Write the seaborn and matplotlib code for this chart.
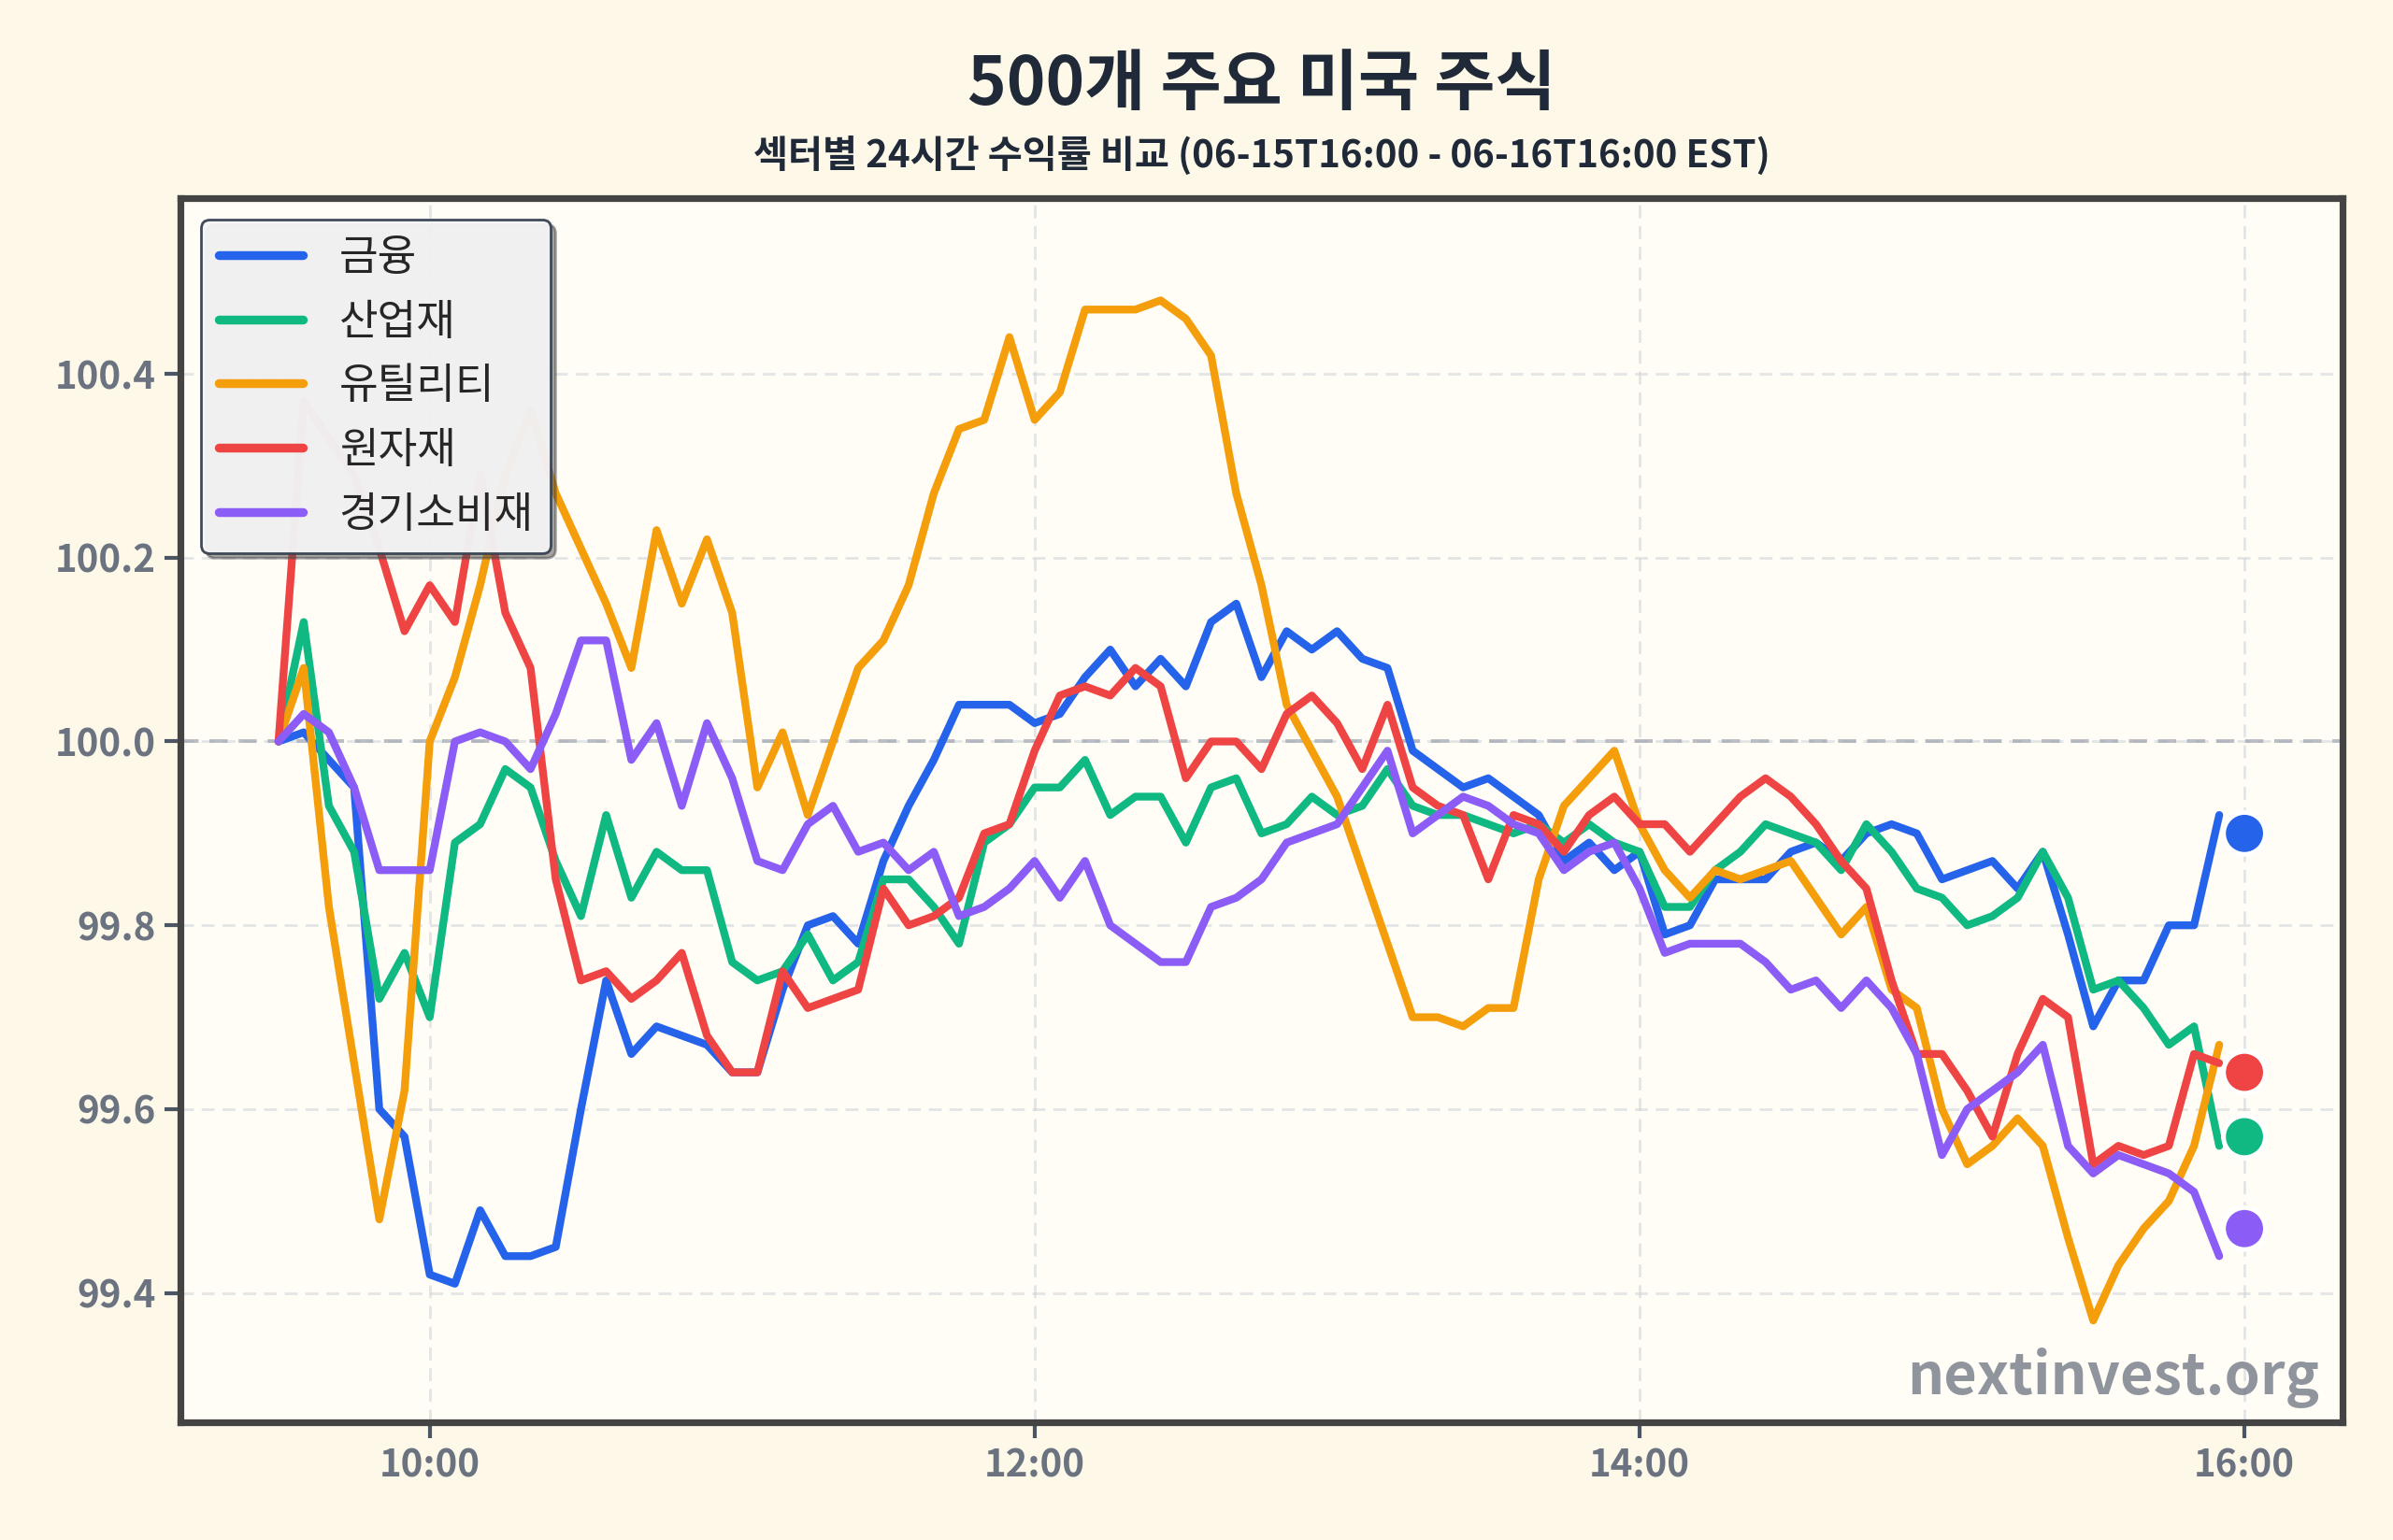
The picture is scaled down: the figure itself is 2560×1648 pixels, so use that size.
import numpy as np
import pandas as pd
import matplotlib
matplotlib.use("Agg")
import matplotlib.pyplot as plt
import matplotlib.dates as mdates
import seaborn as sns

# ---------------- data ----------------
sectors = ["금융", "산업재", "유틸리티", "원자재", "경기소비재"]
colors = ["#2563eb", "#10b981", "#f59e0b", "#ef4444", "#8b5cf6"]

financials = [100.00, 100.01, 99.98, 99.95, 99.60, 99.57, 99.42, 99.41, 99.49, 99.44,
              99.44, 99.45, 99.60, 99.74, 99.66, 99.69, 99.68, 99.67, 99.64, 99.64,
              99.73, 99.80, 99.81, 99.78, 99.87, 99.93, 99.98, 100.04, 100.04, 100.04,
              100.02, 100.03, 100.07, 100.10, 100.06, 100.09, 100.06, 100.13, 100.15, 100.07,
              100.12, 100.10, 100.12, 100.09, 100.08, 99.99, 99.97, 99.95, 99.96, 99.94,
              99.92, 99.87, 99.89, 99.86, 99.88, 99.79, 99.80, 99.85, 99.85, 99.85,
              99.88, 99.89, 99.87, 99.90, 99.91, 99.90, 99.85, 99.86, 99.87, 99.84,
              99.88, 99.79, 99.69, 99.74, 99.74, 99.80, 99.80, 99.92]
industrials = [100.00, 100.13, 99.93, 99.88, 99.72, 99.77, 99.70, 99.89, 99.91, 99.97,
               99.95, 99.87, 99.81, 99.92, 99.83, 99.88, 99.86, 99.86, 99.76, 99.74,
               99.75, 99.79, 99.74, 99.76, 99.85, 99.85, 99.82, 99.78, 99.89, 99.91,
               99.95, 99.95, 99.98, 99.92, 99.94, 99.94, 99.89, 99.95, 99.96, 99.90,
               99.91, 99.94, 99.92, 99.93, 99.97, 99.93, 99.92, 99.92, 99.91, 99.90,
               99.91, 99.89, 99.91, 99.89, 99.88, 99.82, 99.82, 99.86, 99.88, 99.91,
               99.90, 99.89, 99.86, 99.91, 99.88, 99.84, 99.83, 99.80, 99.81, 99.83,
               99.88, 99.83, 99.73, 99.74, 99.71, 99.67, 99.69, 99.56]
utilities = [100.00, 100.08, 99.82, 99.65, 99.48, 99.62, 100.00, 100.07, 100.17, 100.29,
             100.36, 100.27, 100.21, 100.15, 100.08, 100.23, 100.15, 100.22, 100.14, 99.95,
             100.01, 99.92, 100.00, 100.08, 100.11, 100.17, 100.27, 100.34, 100.35, 100.44,
             100.35, 100.38, 100.47, 100.47, 100.47, 100.48, 100.46, 100.42, 100.27, 100.17,
             100.04, 99.99, 99.94, 99.86, 99.78, 99.70, 99.70, 99.69, 99.71, 99.71,
             99.85, 99.93, 99.96, 99.99, 99.91, 99.86, 99.83, 99.86, 99.85, 99.86,
             99.87, 99.83, 99.79, 99.82, 99.73, 99.71, 99.60, 99.54, 99.56, 99.59,
             99.56, 99.46, 99.37, 99.43, 99.47, 99.50, 99.56, 99.67]
materials = [100.00, 100.37, 100.33, 100.29, 100.21, 100.12, 100.17, 100.13, 100.29, 100.14,
             100.08, 99.85, 99.74, 99.75, 99.72, 99.74, 99.77, 99.68, 99.64, 99.64,
             99.75, 99.71, 99.72, 99.73, 99.84, 99.80, 99.81, 99.83, 99.90, 99.91,
             99.99, 100.05, 100.06, 100.05, 100.08, 100.06, 99.96, 100.00, 100.00, 99.97,
             100.03, 100.05, 100.02, 99.97, 100.04, 99.95, 99.93, 99.92, 99.85, 99.92,
             99.91, 99.88, 99.92, 99.94, 99.91, 99.91, 99.88, 99.91, 99.94, 99.96,
             99.94, 99.91, 99.87, 99.84, 99.74, 99.66, 99.66, 99.62, 99.57, 99.66,
             99.72, 99.70, 99.54, 99.56, 99.55, 99.56, 99.66, 99.65]
discretionary = [100.00, 100.03, 100.01, 99.95, 99.86, 99.86, 99.86, 100.00, 100.01, 100.00,
                 99.97, 100.03, 100.11, 100.11, 99.98, 100.02, 99.93, 100.02, 99.96, 99.87,
                 99.86, 99.91, 99.93, 99.88, 99.89, 99.86, 99.88, 99.81, 99.82, 99.84,
                 99.87, 99.83, 99.87, 99.80, 99.78, 99.76, 99.76, 99.82, 99.83, 99.85,
                 99.89, 99.90, 99.91, 99.95, 99.99, 99.90, 99.92, 99.94, 99.93, 99.91,
                 99.90, 99.86, 99.88, 99.89, 99.84, 99.77, 99.78, 99.78, 99.78, 99.76,
                 99.73, 99.74, 99.71, 99.74, 99.71, 99.66, 99.55, 99.60, 99.62, 99.64,
                 99.67, 99.56, 99.53, 99.55, 99.54, 99.53, 99.51, 99.44]
final_values = [99.90, 99.57, 99.64, 99.64, 99.47]

title = "500개 주요 미국 주식"
subtitle = "섹터별 24시간 수익률 비교 (06-15T16:00 - 06-16T16:00 EST)"
watermark = "nextinvest.org"
yticks = [99.4, 99.6, 99.8, 100.0, 100.2, 100.4]

times = pd.date_range("2025-06-16 09:30", periods=len(financials), freq="5min")
end_time = pd.Timestamp("2025-06-16 16:00")

series = [financials, industrials, utilities, materials, discretionary]
df = pd.concat([pd.DataFrame({"time": times, "value": v, "sector": s})
                for s, v in zip(sectors, series)], ignore_index=True)
end_df = pd.DataFrame({"time": [end_time] * len(sectors), "value": final_values,
                       "sector": sectors})

# ---------------- style ----------------
sns.set_theme(style="white")
plt.rcParams["font.family"] = ["Noto Sans CJK KR", "DejaVu Sans"]
plt.rcParams["axes.unicode_minus"] = False

fig_bg = "#fdf8e8"
ax_bg = "#fffdf6"

fig = plt.figure(figsize=(12.8, 8.24), dpi=200, facecolor=fig_bg)
ax = fig.add_axes([0.0753, 0.0763, 0.9037, 0.7949])
ax.set_facecolor(ax_bg)

palette = dict(zip(sectors, colors))
sns.lineplot(data=df, x="time", y="value", hue="sector", hue_order=sectors,
             palette=palette, linewidth=3.0, ax=ax, zorder=3)
sns.scatterplot(data=end_df, x="time", y="value", hue="sector", hue_order=sectors,
                palette=palette, s=260, edgecolor="white", linewidth=1.8,
                legend=False, ax=ax, zorder=5)

allv = np.concatenate([np.array(v) for v in series])
lo, hi = allv.min(), allv.max()
pad = 0.1 * (hi - lo)
ax.set_ylim(lo - pad, hi + pad)
t0 = times[0]
span = end_time - t0
ax.set_xlim(t0 - 0.05 * span, end_time + 0.05 * span)

ax.axhline(100.0, color="#9ca3af", linestyle=(0, (5, 3)), linewidth=1.4, alpha=0.7, zorder=2)
ax.grid(True, linestyle=(0, (5, 3)), color="#d1d5db", linewidth=1.0, alpha=0.6, zorder=0)

ax.xaxis.set_major_locator(mdates.HourLocator(byhour=[10, 12, 14, 16]))
ax.xaxis.set_major_formatter(mdates.DateFormatter("%H:%M"))
ax.set_yticks(yticks)
ax.set_yticklabels([f"{v:.1f}" for v in yticks])
ax.tick_params(axis="both", which="major", labelsize=14.5, colors="#4b5563",
               labelcolor="#6b7280", length=6, width=1.5, direction="out",
               bottom=True, left=True)
for lbl in ax.get_xticklabels() + ax.get_yticklabels():
    lbl.set_fontweight("bold")
ax.set_xlabel("")
ax.set_ylabel("")

for sp in ax.spines.values():
    sp.set_visible(True)
    sp.set_color("#444444")
    sp.set_linewidth(2.6)

leg = ax.legend(loc="upper left", fontsize=16.3, frameon=True, shadow=True, fancybox=True,
                framealpha=0.95, facecolor="#f5f5f6", edgecolor="#374151",
                handlelength=2.0, handletextpad=0.85, borderpad=0.4, labelspacing=0.5,
                borderaxespad=0.5)
leg.get_frame().set_linewidth(1.0)
for h in leg.get_lines():
    h.set_linewidth(3.4)
    h.set_solid_capstyle("round")

ax.text(0.989, 0.012, watermark, transform=ax.transAxes, ha="right", va="bottom",
        fontsize=22, fontweight="bold", color="#6b7280", alpha=0.75, zorder=6)

pos = ax.get_position()
cx = (pos.x0 + pos.x1) / 2
fig.text(cx, 0.945, title, ha="center", va="center", fontsize=25.5, fontweight="bold",
         color="#1f2937")
fig.text(cx, 0.899, subtitle, ha="center", va="center", fontsize=14.5, fontweight="bold",
         color="#1f2937")

fig.savefig("out.png", dpi=200, facecolor=fig_bg)
